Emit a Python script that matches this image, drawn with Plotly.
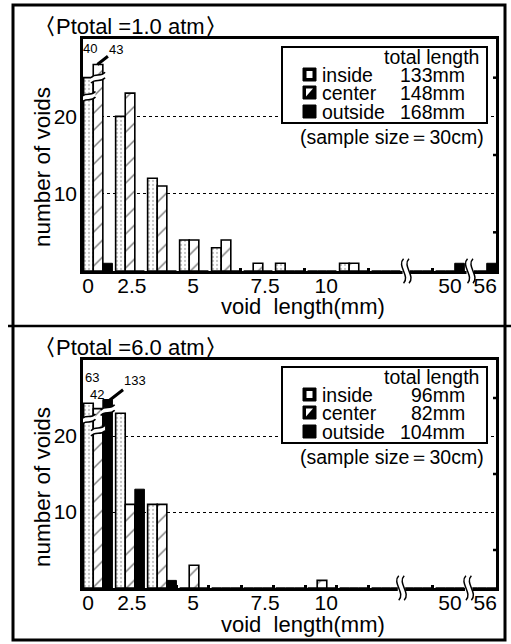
import plotly.graph_objects as go

# ---------------- data ----------------
# group index along the (non-linear, broken) void-length axis
bin_index = list(range(13))

# Ptotal = 1.0 atm  (number of voids per bin)
inside_1 = [40, 20, 12, 4, 3, 0, 1, 0, 1, 0, 0, 0, 0]
center_1 = [43, 23, 11, 4, 4, 1, 0, 0, 1, 0, 0, 0, 0]
outside_1 = [1, 0, 0, 0, 0, 0, 0, 0, 0, 0, 0, 1, 1]

# Ptotal = 6.0 atm
inside_6 = [63, 23, 11, 0, 0, 0, 0, 0, 0, 0, 0, 0, 0]
center_6 = [42, 11, 11, 3, 0, 0, 0, 1, 0, 0, 0, 0, 0]
outside_6 = [133, 13, 1, 0, 0, 0, 0, 0, 0, 0, 0, 0, 0]

series_names = ["inside", "center", "outside"]
total_len_1 = ["133mm", "148mm", "168mm"]
total_len_6 = ["96mm", "82mm", "104mm"]

x_tick_labels = ["0", "2.5", "5", "7.5", "10", "50", "56"]
y_tick_vals = [10, 20]

# ---------------- layout constants ----------------
W, H = 511, 644
FONT = "Liberation Sans, Arial, Helvetica, sans-serif"
x_tick_pos = [-0.31, 1.06, 2.97, 5.22, 7.13, 11.0, 12.1]
Y_MAX = 30
CAP = 24  # values above this are drawn as broken bars
# drawn height / break position for broken bars (series -> (top, break_y))
broken_1 = {"inside": (25.0, 22.5), "center": (26.7, 25.0)}
broken_6 = {"inside": (24.3, 22.2), "center": (23.6, 20.7), "outside": (24.8, 23.4)}
offsets = {"inside": -0.3, "center": 0.0, "outside": 0.3}


def px(x):
    return x / W


def py(y):
    return 1 - y / H


panels = [
    dict(data=[inside_1, center_1, outside_1], broken=broken_1, totals=total_len_1,
         title="<b>〈</b>Ptotal =1.0 atm<b>〉</b>", ytop=39, ybot=271, dy=0, ytitle=167,
         axis_breaks=[9.55, 11.55], minor=[4.45, 6.45, 8.45, 10.45]),
    dict(data=[inside_6, center_6, outside_6], broken=broken_6, totals=total_len_6,
         title="<b>〈</b>Ptotal =6.0 atm<b>〉</b>", ytop=360, ybot=588, dy=320, ytitle=487,
         axis_breaks=[9.4, 11.5], minor=[2.45, 3.45, 4.5, 5.47, 6.47, 7.45, 8.45, 10.47]),
]

styles = {
    "inside": dict(color="white", line=dict(color="black", width=1.6),
                   pattern=dict(shape=".", fgcolor="#8a8a8a", bgcolor="white", size=4, solidity=0.25)),
    "center": dict(color="white", line=dict(color="black", width=1.6),
                   pattern=dict(shape="/", fgcolor="black", bgcolor="white", size=12, solidity=0.12)),
    "outside": dict(color="black", line=dict(color="black", width=1)),
}

fig = go.Figure()
shapes = []
annotations = []


def text(x, y, t, size, xanchor="center", **kw):
    return dict(xref="paper", yref="paper", x=px(x), y=py(y), text=t, showarrow=False,
                xanchor=xanchor, yanchor="middle", font=dict(size=size, family=FONT, color="black"), **kw)


for i, p in enumerate(panels):
    xa = "x" if i == 0 else "x2"
    ya = "y" if i == 0 else "y2"
    for name, vals in zip(series_names, p["data"]):
        drawn = [p["broken"][name][0] if v > CAP else v for v in vals]
        fig.add_trace(go.Bar(x=bin_index, y=drawn, name=name, marker=styles[name],
                             xaxis=xa, yaxis=ya, showlegend=False,
                             customdata=vals, hovertemplate="%{customdata}<extra>" + name + "</extra>"))
        # break marks on broken bars
        for k, v in zip(bin_index, vals):
            if v > CAP:
                yb = p["broken"][name][1]
                xc = k + offsets[name]
                hw, t, tilt, amp = 0.22, 0.7, 0.35, 0.7
                xl, xr = xc - hw, xc + hw
                yl, yr = yb - tilt, yb + tilt
                lo = (f"M {xl},{yl - t/2} C {xc - hw/3},{yl - t/2 + amp} {xc + hw/3},{yr - t/2 - amp} {xr},{yr - t/2}")
                up_fwd = (f"M {xl},{yl + t/2} C {xc - hw/3},{yl + t/2 + amp} {xc + hw/3},{yr + t/2 - amp} {xr},{yr + t/2}")
                fill = (lo + f" L {xr},{yr + t/2} C {xc + hw/3},{yr + t/2 - amp} {xc - hw/3},{yl + t/2 + amp} {xl},{yl + t/2} Z")
                shapes.append(dict(type="path", xref=xa, yref=ya, path=fill, fillcolor="white",
                                   line=dict(width=0), layer="above"))
                for pth in (lo, up_fwd):
                    shapes.append(dict(type="path", xref=xa, yref=ya, path=pth,
                                       fillcolor="rgba(0,0,0,0)", line=dict(color="black", width=1.5),
                                       layer="above"))
    # x-axis breaks
    yb = py(p["ybot"])
    for xb in p["axis_breaks"]:
        shapes.append(dict(type="rect", xref=xa, yref="paper", x0=xb - 0.03, x1=xb + 0.2,
                           y0=yb - 0.006, y1=yb + 0.006, fillcolor="white", line=dict(width=0), layer="above"))
        for xx in (xb, xb + 0.17):
            shapes.append(dict(type="path", xref=xa, yref="paper",
                               path=f"M {xx},{yb - 0.019} C {xx + 0.22},{yb - 0.008} {xx - 0.22},{yb + 0.008} {xx},{yb + 0.019}",
                               fillcolor="rgba(0,0,0,0)", line=dict(color="black", width=1.5), layer="above"))
    # right-side small ticks
    for yv in (5, 15, 25):
        shapes.append(dict(type="line", xref="paper", yref=ya, x0=px(493), x1=px(496), y0=yv, y1=yv,
                           line=dict(color="black", width=2.5), layer="above"))

    d = p["dy"]
    annotations.append(text(32, 27 + d, p["title"], 22, xanchor="left"))
    annotations.append(text(42, p["ytitle"], "number of voids", 22.5, textangle=-90))
    annotations.append(text(303, p["ybot"] + 36, "void&nbsp;&nbsp;length(mm)", 22))
    # legend box
    shapes.append(dict(type="rect", xref="paper", yref="paper", x0=px(282), x1=px(487),
                       y0=py(123 + d), y1=py(47 + d), fillcolor="white",
                       line=dict(color="black", width=2), layer="above"))
    annotations.append(text(481, 57 + d, "total length", 19.5, xanchor="right"))
    row_y = [75, 93, 112]
    for name, tot, ry in zip(series_names, p["totals"], row_y):
        yy = ry + d
        shapes.append(dict(type="rect", xref="paper", yref="paper", x0=px(303), x1=px(316),
                           y0=py(yy + 6), y1=py(yy - 7),
                           fillcolor="black", line=dict(color="black", width=1), layer="above"))
        if name == "inside":
            shapes.append(dict(type="rect", xref="paper", yref="paper", x0=px(306.5), x1=px(312.5),
                               y0=py(yy + 3), y1=py(yy - 4), fillcolor="white",
                               line=dict(width=0), layer="above"))
        elif name == "center":
            shapes.append(dict(type="path", xref="paper", yref="paper",
                               path=f"M {px(306)},{py(yy + 3.5)} L {px(313)},{py(yy - 4.5)} L {px(306)},{py(yy - 4.5)} Z",
                               fillcolor="white", line=dict(width=0), layer="above"))
        annotations.append(text(320, yy, name, 19.5, xanchor="left"))
        annotations.append(text(467, yy, tot, 19.5, xanchor="right"))
    annotations.append(text(486, 137 + d, "(sample size＝30cm)", 19.5, xanchor="right"))

# value labels of broken bars
lab_font = dict(size=13, family=FONT, color="black")
annotations += [
    text(90, 48, "40", 13),
    dict(xref="x", yref="y", x=-0.02, y=broken_1["center"][0], ax=19, ay=-15, text="43",
         showarrow=True, arrowhead=0, arrowwidth=3, arrowcolor="black", font=lab_font, standoff=0),
    text(92, 377, "63", 13),
    text(97, 394, "42", 13),
    dict(xref="x2", yref="y2", x=0.3, y=broken_6["outside"][0] - 0.3, ax=27, ay=-21, text="133",
         showarrow=True, arrowhead=0, arrowwidth=3, arrowcolor="black", font=lab_font, standoff=0),
]

# outer frame and divider
shapes.append(dict(type="rect", xref="paper", yref="paper", x0=px(13), x1=px(505), y0=py(640), y1=py(5),
                   line=dict(color="black", width=3), fillcolor="rgba(0,0,0,0)", layer="above"))
shapes.append(dict(type="line", xref="paper", yref="paper", x0=px(8), x1=px(511), y0=py(326), y1=py(326),
                   line=dict(color="black", width=2.5), layer="above"))

common_x = dict(range=[-0.47, 12.44], tickmode="array", tickvals=x_tick_pos, ticktext=x_tick_labels,
                ticks="", showgrid=False, zeroline=False, showline=True, linecolor="black", linewidth=2.5,
                mirror=True, tickfont=dict(size=21, family=FONT, color="black"), ticklabelstandoff=-6,
                domain=[px(83), px(496)])
common_y = dict(range=[0, Y_MAX], tickmode="array", tickvals=y_tick_vals, ticks="", showgrid=True,
                gridcolor="black", griddash="dot", gridwidth=1.2, zeroline=False, showline=True,
                linecolor="black", linewidth=2.5, mirror=True,
                tickfont=dict(size=21, family=FONT, color="black"), ticklabelstandoff=-1)

fig.update_layout(
    width=W, height=H, margin=dict(l=0, r=0, t=0, b=0, autoexpand=False),
    paper_bgcolor="white", plot_bgcolor="white",
    barmode="group", bargap=0.1, bargroupgap=0,
    xaxis=dict(**common_x, anchor="y",
               minor=dict(tickmode="array", tickvals=panels[0]["minor"], ticks="inside", ticklen=3,
                          tickwidth=2.5, tickcolor="black")),
    yaxis=dict(**common_y, anchor="x", domain=[py(271), py(39)]),
    xaxis2=dict(**common_x, anchor="y2",
                minor=dict(tickmode="array", tickvals=panels[1]["minor"], ticks="inside", ticklen=3,
                           tickwidth=2.5, tickcolor="black")),
    yaxis2=dict(**common_y, anchor="x2", domain=[py(588), py(360)]),
    shapes=shapes, annotations=annotations,
    font=dict(family=FONT, color="black"),
)

fig.write_html("out.html", config={"displayModeBar": False},
               post_script="document.body.style.margin='0';document.body.style.overflow='hidden';")
